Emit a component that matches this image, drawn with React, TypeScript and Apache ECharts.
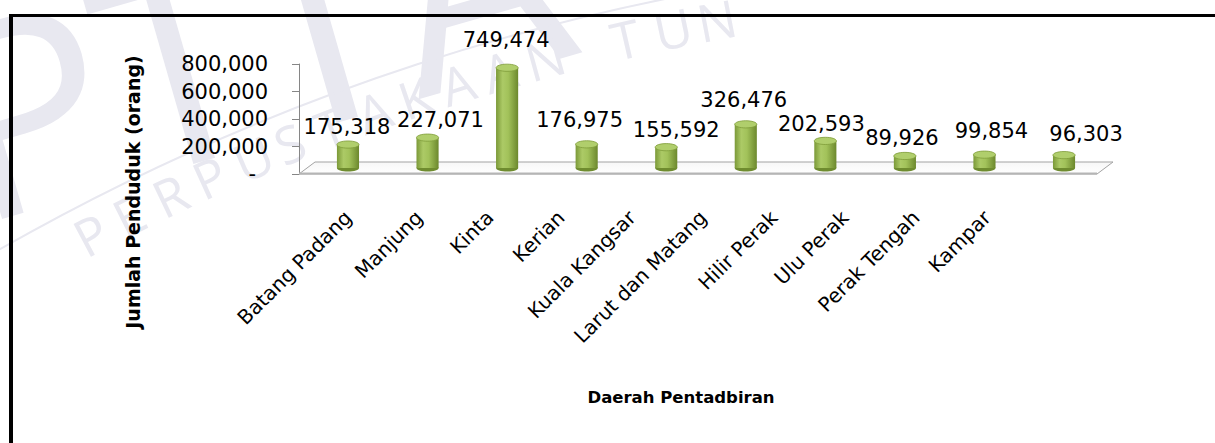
import React, { useEffect, useRef } from "react";
import * as echarts from "echarts";

const categories = [
  "Batang Padang",
  "Manjung",
  "Kinta",
  "Kerian",
  "Kuala Kangsar",
  "Larut dan Matang",
  "Hilir Perak",
  "Ulu Perak",
  "Perak Tengah",
  "Kampar",
];
const population = [175318, 227071, 749474, 176975, 155592, 326476, 202593, 89926, 99854, 96303];
const yMin = 0;
const yMax = 800000;
const yStep = 200000;
const yAxisTitle = "Jumlah Penduduk (orang)";
const xAxisTitle = "Daerah Pentadbiran";
const watermarkRing = "PERPUSTAKAAN TUNKU TUN AMINAH";
const watermarkBig = "PTTA";
// label nudges (style only): [dx, dy] from cylinder top
const labelNudge = [
  [-1, -18],
  [13, -18],
  [-1, -28],
  [-7, -24],
  [10, -17],
  [-2, -24],
  [-4, -17],
  [-3, -18],
  [7, -24],
  [22, -21],
];

const FONT = "DejaVu Sans";
const W = 1215;
const H = 443;
const AXIS_X = 299;
const FLOOR_Y = 174;
const WM = "#e8e8f0";

const fmt = (v: number) => v.toLocaleString("en-US");

function watermarkLetters() {
  const cx = 1112;
  const cy = 2196;
  const R = 2200;
  const step = 0.0199;
  const fs = 52;
  let phi = 0.487;
  const out: any[] = [];
  for (const ch of watermarkRing) {
    const x = cx - R * Math.sin(phi);
    const y = cy - R * Math.cos(phi);
    if (ch !== " " && x < W - 30 && y > 28) {
      out.push({
        type: "text",
        silent: true,
        z: -10,
        x,
        y,
        rotation: phi,
        style: {
          text: ch,
          x: 0,
          y: fs * 0.27,
          fontFamily: "Open Sans",
          fontSize: fs,
          fill: WM,
          align: "left",
          verticalAlign: "bottom",
        },
      });
    }
    phi -= step;
  }
  out.push({
    type: "arc",
    silent: true,
    z: -10,
    shape: { cx, cy, r: R + 42, startAngle: -Math.PI / 2 - 0.53, endAngle: -Math.PI / 2 - 0.1, clockwise: true },
    style: { stroke: WM, lineWidth: 2, fill: "none" },
  });
  return out;
}

export default function App() {
  const ref = useRef<HTMLDivElement>(null);
  useEffect(() => {
    if (!ref.current) return;
    const chart = echarts.init(ref.current, null, { renderer: "svg" });

    const ob = { outerBoundsMode: "none", containLabel: false };
    const barGrid = { left: 308.2, width: 795.6, top: 61, height: 107, ...ob };
    const labelGrid = { left: 312.5, width: 710, top: 100, height: FLOOR_Y - 100, ...ob };

    chart.setOption({
      animation: false,
      backgroundColor: "#ffffff",
      grid: [
        { left: AXIS_X, width: 800, top: 64, height: FLOOR_Y - 64, ...ob },
        barGrid,
        labelGrid,
      ],
      xAxis: [
        { gridIndex: 0, type: "category", data: categories, show: false },
        { gridIndex: 1, type: "category", data: categories, show: false },
        {
          gridIndex: 2,
          type: "category",
          data: categories,
          axisLine: { show: false },
          axisTick: { show: false },
          axisLabel: {
            interval: 0,
            rotate: 45,
            margin: 40,
            fontFamily: FONT,
            fontSize: 20,
            color: "#000",
          },
        },
      ],
      yAxis: [
        {
          gridIndex: 0,
          type: "value",
          min: yMin,
          max: yMax,
          interval: yStep,
          splitLine: { show: false },
          axisLine: { show: true, lineStyle: { color: "#868686", width: 1 } },
          axisTick: { show: true, length: 7, lineStyle: { color: "#868686" } },
          axisLabel: {
            margin: 31,
            showMinLabel: true,
            showMaxLabel: true,
            fontFamily: FONT,
            fontSize: 21,
            color: "#000",
            formatter: (v: number) => (v === 0 ? "{z|-}" : fmt(v)),
            rich: { z: { fontFamily: FONT, fontSize: 21, color: "#000", padding: [0, 12, 0, 0] } },
          },
        },
        { gridIndex: 1, type: "value", min: yMin, max: yMax, show: false },
        { gridIndex: 2, type: "value", show: false },
      ],
      graphic: [
        {
          type: "text",
          silent: true,
          z: -10,
          x: -15,
          y: 255,
          rotation: 0.28,
          style: {
            text: watermarkBig,
            fontFamily: "Open Sans",
            fontSize: 270,
            fill: WM,
            verticalAlign: "bottom",
            align: "left",
          },
        },
        ...watermarkLetters(),
        {
          type: "text",
          silent: true,
          z: 5,
          x: 133,
          y: 192,
          rotation: Math.PI / 2,
          style: {
            text: yAxisTitle,
            fontFamily: FONT,
            fontSize: 19,
            fontWeight: "bold",
            fill: "#000",
            align: "center",
            verticalAlign: "middle",
          },
        },
        {
          type: "text",
          silent: true,
          z: 5,
          x: 681,
          y: 397,
          style: {
            text: xAxisTitle,
            fontFamily: FONT,
            fontSize: 16.5,
            fontWeight: "bold",
            fill: "#000",
            align: "center",
            verticalAlign: "middle",
          },
        },
        {
          type: "polygon",
          z: 1,
          silent: true,
          shape: {
            points: [
              [AXIS_X, FLOOR_Y],
              [AXIS_X + 16, FLOOR_Y - 12],
              [1113, FLOOR_Y - 12],
              [1097, FLOOR_Y],
            ],
          },
          style: {
            fill: new echarts.graphic.LinearGradient(0, 0, 0, 1, [
              { offset: 0, color: "#f7f7f7" },
              { offset: 1, color: "#ffffff" },
            ]),
            stroke: "#a3a3a3",
            lineWidth: 1,
          },
        },
        {
          type: "line",
          z: 1,
          silent: true,
          shape: { x1: AXIS_X, y1: FLOOR_Y - 0.5, x2: 1097, y2: FLOOR_Y - 0.5 },
          style: { stroke: "#b5b5b5", lineWidth: 2 },
        },
        {
          type: "rect",
          z: 5,
          silent: true,
          shape: { x: 9, y: 14, width: W - 9, height: 3 },
          style: { fill: "#000" },
        },
        {
          type: "rect",
          z: 5,
          silent: true,
          shape: { x: 9, y: 14, width: 4, height: H - 14 },
          style: { fill: "#000" },
        },
      ],
      series: [
        {
          type: "custom",
          xAxisIndex: 1,
          yAxisIndex: 1,
          z: 3,
          data: population.map((v, i) => [i, v]),
          renderItem: (params: any, api: any) => {
            const i = api.value(0);
            const v = api.value(1);
            const top = api.coord([i, v]);
            const base = api.coord([i, 0]);
            const w = api.size([1, 0])[0] * 0.278;
            const rx = w / 2;
            const ry = 3.6;
            const nudge = labelNudge[params.dataIndex] || [0, -20];
            return {
              type: "group",
              children: [
                {
                  type: "ellipse",
                  shape: { cx: base[0], cy: base[1], rx, ry },
                  style: { fill: "#6f8c2f" },
                },
                {
                  type: "rect",
                  shape: { x: top[0] - rx, y: top[1], width: w, height: base[1] - top[1] },
                  style: {
                    fill: new echarts.graphic.LinearGradient(0, 0, 1, 0, [
                      { offset: 0, color: "#7b9938" },
                      { offset: 0.3, color: "#acca66" },
                      { offset: 0.55, color: "#a2c25a" },
                      { offset: 1, color: "#6c882d" },
                    ]),
                  },
                },
                {
                  type: "ellipse",
                  shape: { cx: top[0], cy: top[1], rx, ry },
                  style: { fill: "#b0ce6c", stroke: "#7f9c3a", lineWidth: 0.8 },
                },
                {
                  type: "text",
                  style: {
                    text: fmt(v),
                    x: top[0] + nudge[0],
                    y: top[1] + nudge[1],
                    align: "center",
                    verticalAlign: "middle",
                    fontFamily: FONT,
                    fontSize: 21,
                    fill: "#000",
                  },
                },
              ],
            };
          },
        },
      ],
    });
    return () => chart.dispose();
  }, []);
  return (
    <div
      ref={ref}
      style={{ position: "absolute", left: 0, top: 0, width: W, height: H, background: "#fff" }}
    />
  );
}
